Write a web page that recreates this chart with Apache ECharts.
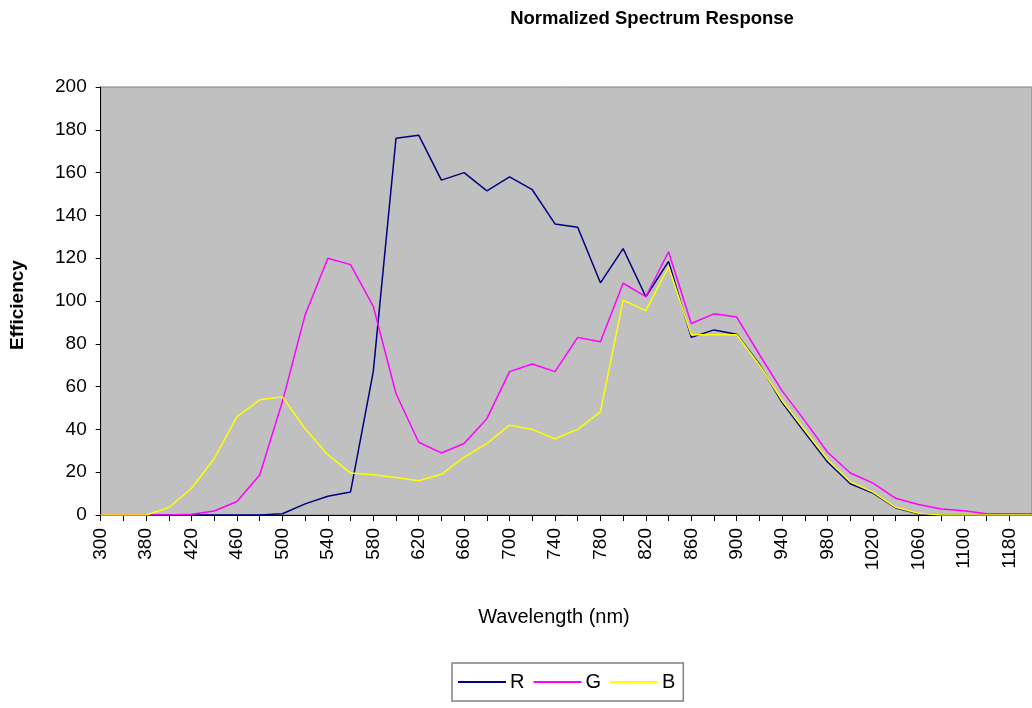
<!DOCTYPE html>
<html>
<head>
<meta charset="utf-8">
<script src="https://cdn.jsdelivr.net/npm/echarts@6/dist/echarts.min.js"></script>
<style>
html,body{margin:0;padding:0;background:#fff;overflow:hidden;}
#chart{width:1032px;height:708px;}
</style>
</head>
<body>
<div id="chart"></div>
<script>
var categories = ["300","340","380","400","420","440","460","480","500","520","540","560","580","600","620","640","660","680","700","720","740","760","780","800","820","840","860","880","900","920","940","960","980","1000","1020","1040","1060","1080","1100","1140","1180","1200"];
var seriesR = [0,0,0,0,0,0,0,0,0.6,5.2,8.8,10.8,67,176,177.5,156.5,160,151.5,158,152,136,134.5,108.5,124.5,102,118.5,83,86.5,84.5,70.5,52.5,38.5,24.8,14.6,10.2,3.3,0.6,0,0,0,0,0];
var seriesG = [0,0,0,0,0.3,1.9,6.3,18.7,53,93.5,120,117,97.5,56.8,34,29,33.4,45,67,70.6,67,83,81,108.3,102,123,89.5,94,92.5,75,58,44,29.3,19.6,14.9,7.8,4.9,2.8,2.0,0.6,0.6,0.6];
var seriesB = [0,0,0,3.5,12.5,26.4,46,53.8,55.2,40.3,28.2,19.6,18.8,17.5,16,19,27,33.4,42,40,35.6,40,48.2,100.4,95.5,116,84.2,84.2,84.2,70,53.5,39.7,25.9,15.5,10.7,3.6,0.8,0,0,0,0,0];
var yTicks = [0,20,40,60,80,100,120,140,160,180,200];
var seriesNames = ["R","G","B"];
var chartTitle = "Normalized Spectrum Response";
var xTitle = "Wavelength (nm)";
var yTitle = "Efficiency";

var FONT = "'Liberation Sans', Arial, sans-serif";
var chart = echarts.init(document.getElementById('chart'), null, {renderer:'canvas'});
var option = {
  backgroundColor: '#ffffff',
  animation: false,
  grid: {
    left: 100.7, top: 87, width: 934, height: 428,
    show: true, backgroundColor: '#c0c0c0', borderColor: '#808080', borderWidth: 1,
    containLabel: false
  },
  legend: {
    data: seriesNames,
    left: 452, top: 663,
    orient: 'horizontal',
    icon: 'rect',
    itemWidth: 48, itemHeight: 2,
    itemGap: 9,
    padding: [9, 8, 9, 6],
    borderColor: '#808080', borderWidth: 1.5,
    textStyle: {fontFamily: FONT, fontSize: 20, color: '#000', padding: [0,0,0,-1]}
  },
  graphic: [
    {type:'text', x: 652, y: 18.5, style:{text: chartTitle, font: 'bold 18.5px ' + FONT, fill:'#000', textAlign:'center', textVerticalAlign:'middle'}},
    {type:'text', x: 554, y: 617, style:{text: xTitle, font: '20px ' + FONT, fill:'#000', textAlign:'center', textVerticalAlign:'middle'}},
    {type:'text', x: 18, y: 305, rotation: Math.PI/2, style:{text: yTitle, font: 'bold 19px ' + FONT, fill:'#000', textAlign:'center', textVerticalAlign:'middle'}}
  ],
  xAxis: {
    type: 'category',
    data: categories,
    boundaryGap: false,
    axisLine: {show: true, lineStyle: {color: '#000', width: 1}},
    axisTick: {show: true, interval: 0, length: 6, lineStyle: {color: '#000'}},
    axisLabel: {interval: 1, rotate: 90, margin: 13, fontFamily: FONT, fontSize: 19, color: '#000'},
    splitLine: {show: false}
  },
  yAxis: {
    type: 'value',
    min: yTicks[0], max: yTicks[yTicks.length-1], interval: yTicks[1]-yTicks[0],
    axisLine: {show: true, lineStyle: {color: '#000', width: 1}},
    axisTick: {show: true, length: 5, lineStyle: {color: '#000'}},
    axisLabel: {margin: 14, fontFamily: FONT, fontSize: 19, color: '#000'},
    splitLine: {show: false}
  },
  series: [
    {name: seriesNames[0], type: 'line', data: seriesR, symbol: 'none', lineStyle: {color: '#000080', width: 1.5}, itemStyle: {color: '#000080'}},
    {name: seriesNames[1], type: 'line', data: seriesG, symbol: 'none', lineStyle: {color: '#ff00ff', width: 1.5}, itemStyle: {color: '#ff00ff'}},
    {name: seriesNames[2], type: 'line', data: seriesB, symbol: 'none', lineStyle: {color: '#ffff00', width: 1.5}, itemStyle: {color: '#ffff00'}}
  ]
};
chart.setOption(option);
</script>
</body>
</html>
